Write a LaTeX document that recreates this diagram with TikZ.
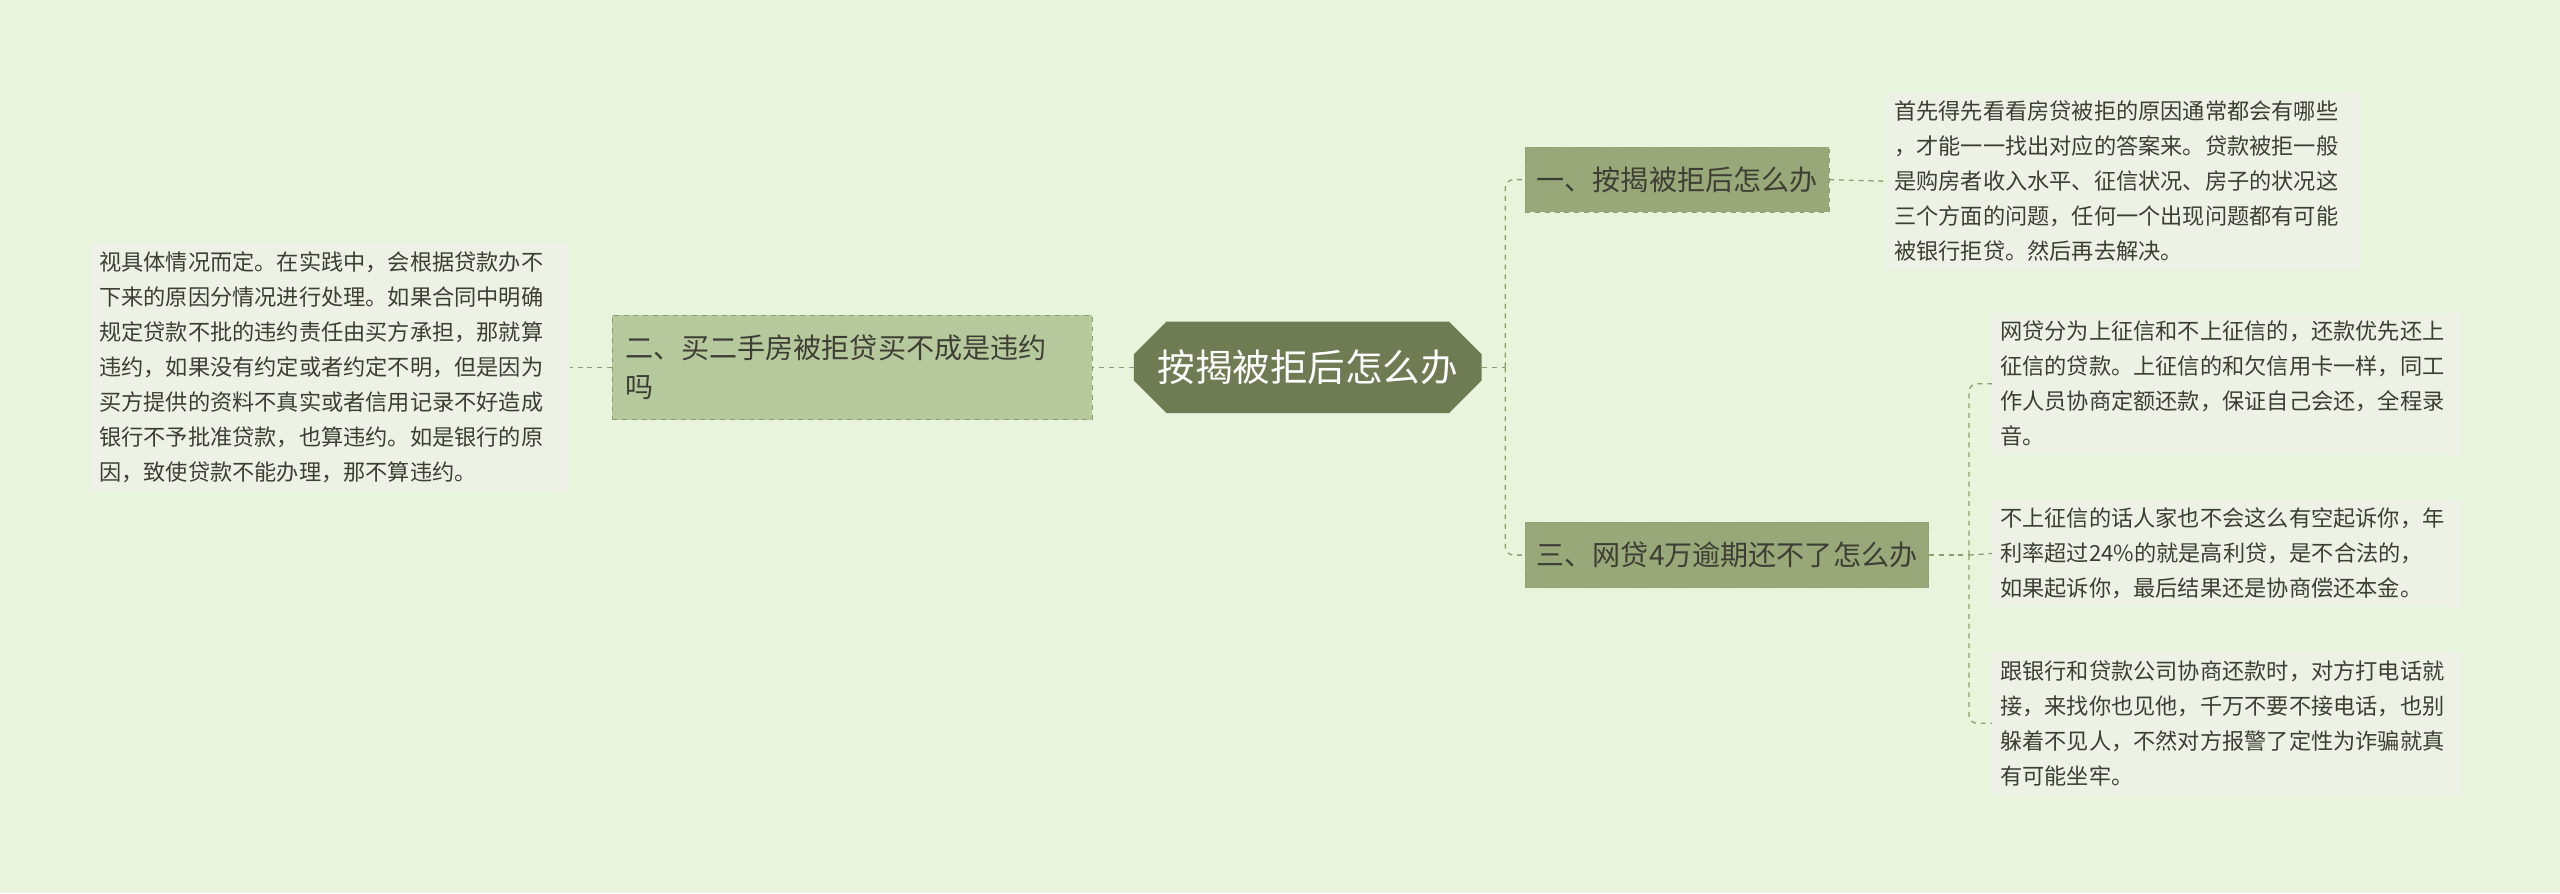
\documentclass[tikz,border=0pt]{standalone}
\usepackage{fontspec}
\setmainfont{Noto Sans CJK SC}
\usetikzlibrary{shapes.misc,shapes.geometric}
\definecolor{bg}{HTML}{E8F4DC}
\definecolor{ctr}{HTML}{6F7C53}
\definecolor{br}{HTML}{98A878}
\definecolor{brl}{HTML}{B6C99C}
\definecolor{leaf}{HTML}{EDF1E6}
\definecolor{ln}{HTML}{8E9E70}
\definecolor{tx}{HTML}{3E3E35}
\tikzset{
 leafbox/.style={fill=leaf,draw=none,text=tx,align=left,inner sep=5pt,font=\fontsize{13.6}{21.5}\selectfont},
 brbox/.style={fill=br,draw=ln,dashed,text=tx,align=left,inner sep=7pt,font=\fontsize{17.2}{24}\selectfont},
 conn/.style={draw=ln,dashed,line width=0.8pt,rounded corners=5pt}
}
\begin{document}
\begin{tikzpicture}[x=1pt,y=-1pt]
\fill[bg] (0,0) rectangle (1568,547);
\useasboundingbox (0,0) rectangle (1568,547);
% center
\node[fill=ctr,text=white,font=\fontsize{23}{28}\selectfont,minimum width=213pt,minimum height=56pt,chamfered rectangle,chamfered rectangle xsep=10pt,chamfered rectangle sep=10pt,inner sep=2pt] (c) at (801,225) {按揭被拒后怎么办};
% left
\node[brbox,fill=brl,minimum width=294pt,minimum height=64pt,text width=278pt] (b2) at (522,225) {二、买二手房被拒贷买不成是违约\\吗};
\node[leafbox,text width=283pt,anchor=east] (l2) at (349,225) {视具体情况而定。在实践中，会根据贷款办不\\下来的原因分情况进行处理。如果合同中明确\\规定贷款不批的违约责任由买方承担，那就算\\违约，如果没有约定或者约定不明，但是因为\\买方提供的资料不真实或者信用记录不好造成\\银行不予批准贷款，也算违约。如是银行的原\\因，致使贷款不能办理，那不算违约。};
% right branches
\node[brbox,anchor=west,minimum height=40pt] (b1) at (934,110) {一、按揭被拒后怎么办};
\node[brbox,anchor=west,minimum height=40pt] (b3) at (934,340) {三、网贷4万逾期还不了怎么办};
\node[leafbox,anchor=west,text width=280pt] (l1) at (1155,111) {首先得先看看房贷被拒的原因通常都会有哪些\\，才能一一找出对应的答案来。贷款被拒一般\\是购房者收入水平、征信状况、房子的状况这\\三个方面的问题，任何一个出现问题都有可能\\被银行拒贷。然后再去解决。};
\node[leafbox,anchor=west,text width=278pt] (l3a) at (1220,235) {网贷分为上征信和不上征信的，还款优先还上\\征信的贷款。上征信的和欠信用卡一样，同工\\作人员协商定额还款，保证自己会还，全程录\\音。};
\node[leafbox,anchor=west,text width=278pt] (l3b) at (1220,339) {不上征信的话人家也不会这么有空起诉你，年\\利率超过24\%的就是高利贷，是不合法的，\\如果起诉你，最后结果还是协商偿还本金。};
\node[leafbox,anchor=west,text width=278pt] (l3c) at (1220,443) {跟银行和贷款公司协商还款时，对方打电话就\\接，来找你也见他，千万不要不接电话，也别\\躲着不见人，不然对方报警了定性为诈骗就真\\有可能坐牢。};
% connectors
\coordinate (j1) at (922,225);
\coordinate (j3) at (1206,340);
\draw[conn] (c.east) -- (j1);
\draw[conn] (j1) |- (b1.west);
\draw[conn] (j1) |- (b3.west);
\draw[conn] (c.west) -- (b2.east);
\draw[conn] (b2.west) -- (l2.east);
\draw[conn] (b1.east) -- (l1.west);
\draw[conn] (b3.east) -- (j3);
\draw[conn] (j3) |- (l3a.west);
\draw[conn] (j3) |- (l3c.west);
\draw[conn] (j3) -- (l3b.west);
\end{tikzpicture}
\end{document}
